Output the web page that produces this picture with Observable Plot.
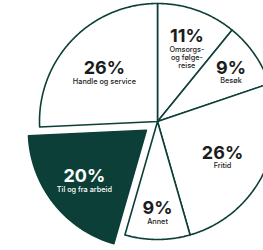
<!DOCTYPE html>
<html>
<head>
<meta charset="utf-8">
<script src="https://cdn.jsdelivr.net/npm/d3@7"></script>
<script src="https://cdn.jsdelivr.net/npm/@observablehq/plot@0.6"></script>
<style>
  html, body { margin: 0; padding: 0; background: #fff; overflow: hidden; }
  #chart svg { overflow: hidden; }
</style>
</head>
<body>
<div id="chart"></div>
<script>
// Data
const categories = ["Omsorgs- og følgereise", "Besøk", "Fritid", "Annet", "Til og fra arbeid", "Handle og service"];
const values = [11, 9, 26, 9, 20, 26];
const percentLabels = ["11%", "9%", "26%", "9%", "20%", "26%"];
const nameLabels = ["Omsorgs-\nog følge-\nreise", "Besøk", "Fritid", "Annet", "Til og fra arbeid", "Handle og service"];
const highlighted = "Til og fra arbeid";

// Layout
const W = 263, H = 250;
const cx = 157, cy = 121, R = 118;
const explode = 0.12;
const dark = "#0c3f37";

const pie = d3.pie().sort(null).value(d => d)(values);

const slicePts = [];
const labels = [];
pie.forEach((p, i) => {
  const cat = categories[i];
  const mid = (p.startAngle + p.endAngle) / 2;
  const off = cat === highlighted ? explode : 0;
  const ox = off * Math.sin(mid), oy = off * Math.cos(mid);
  slicePts.push({cat, x: ox, y: oy, i});
  const steps = Math.max(4, Math.ceil((p.endAngle - p.startAngle) / 0.01));
  for (let k = 0; k <= steps; k++) {
    const a = p.startAngle + (p.endAngle - p.startAngle) * k / steps;
    slicePts.push({cat, x: ox + Math.sin(a), y: oy + Math.cos(a), i});
  }
  const lr = 0.83 - 0.008 * values[i];
  labels.push({
    cat,
    x: ox + lr * Math.sin(mid),
    y: oy + lr * Math.cos(mid),
    pct: percentLabels[i],
    name: nameLabels[i],
    color: cat === highlighted ? "#ffffff" : "#1c1c1c"
  });
});

const normalPts = slicePts.filter(d => d.cat !== highlighted);
const hlPts = slicePts.filter(d => d.cat === highlighted);

const chart = Plot.plot({
  width: W,
  height: H,
  margin: 0,
  x: {type: "linear", domain: [-1, 1], range: [cx - R, cx + R], axis: null},
  y: {type: "linear", domain: [-1, 1], range: [cy + R, cy - R], axis: null},
  style: {background: "#fff"},
  marks: [
    Plot.line(normalPts, {x: "x", y: "y", z: "cat", curve: "linear-closed", fill: "#ffffff", stroke: dark, strokeWidth: 1.6, strokeLinejoin: "round"}),
    Plot.line(hlPts, {x: "x", y: "y", z: "cat", curve: "linear-closed", fill: dark, stroke: dark, strokeWidth: 1.6, strokeLinejoin: "round"}),
    Plot.text(labels, {x: "x", y: "y", text: "pct", fill: "color", fontSize: 18, fontWeight: "bold", fontFamily: "Inter", lineAnchor: "bottom", dy: 3}),
    Plot.text(labels, {x: "x", y: "y", text: "name", fill: "color", fontSize: 7.3, fontWeight: 500, fontFamily: "Inter", lineAnchor: "top", lineHeight: 1.1, dy: 7})
  ]
});
document.getElementById("chart").appendChild(chart);
</script>
</body>
</html>
